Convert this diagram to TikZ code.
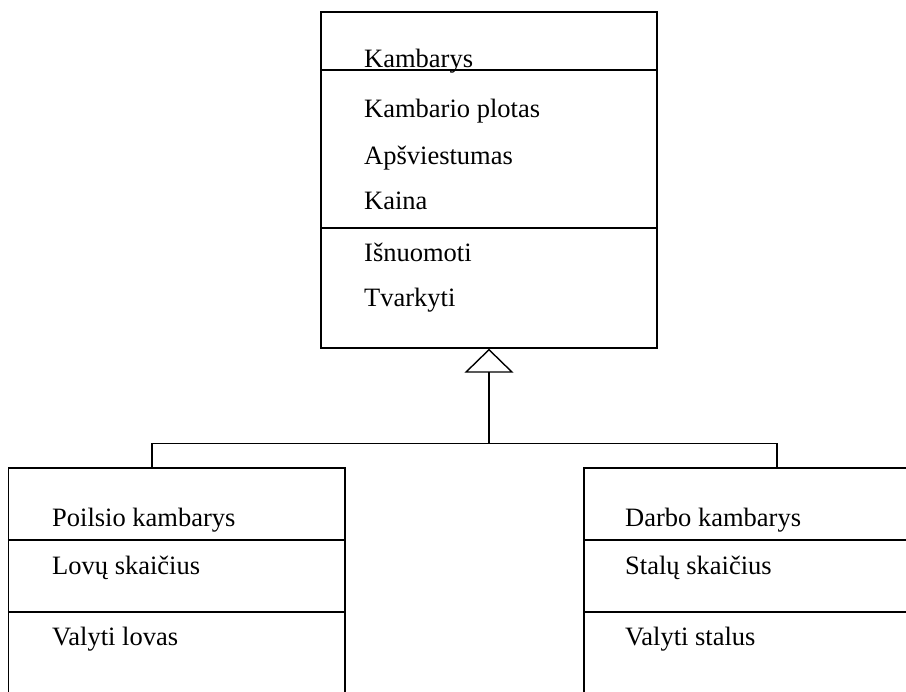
\documentclass[tikz,border=0pt]{standalone}
\usepackage{fontspec}
\setmainfont{Liberation Serif}
\usetikzlibrary{arrows.meta}
\begin{document}
\begin{tikzpicture}[x=1pt,y=-1pt,
  umlbox/.style={draw,line width=1.4pt,rectangle,inner sep=0pt},
  txt/.style={anchor=base west,inner sep=0pt,font=\fontsize{26.5}{30}\selectfont},
  wire/.style={line width=1.4pt},
  inherit/.style={line width=1.4pt,-{Triangle[open,length=24pt,width=49pt,line width=1.4pt]}}]
\useasboundingbox (0,0) rectangle (906,692);
\clip (0,0) rectangle (906,692);

% class boxes
\node[umlbox,minimum width=336pt,minimum height=336pt] (room) at (489,180) {};
\node[umlbox,minimum width=336.5pt,minimum height=252pt] (rest) at (176.75,594) {};
\node[umlbox,minimum width=346pt,minimum height=252pt] (work) at (757,594) {};

% compartment separators
\draw[wire] (room.west |- 0,70) -- (room.east |- 0,70);
\draw[wire] (room.west |- 0,228) -- (room.east |- 0,228);
\draw[wire] (rest.west |- 0,540) -- (rest.east |- 0,540);
\draw[wire] (rest.west |- 0,612) -- (rest.east |- 0,612);
\draw[wire] (work.west |- 0,540) -- (work.east |- 0,540);
\draw[wire] (work.west |- 0,612) -- (work.east |- 0,612);

% texts of the base class
\node[txt] (t1) at (364,68) {Kambarys};
\node[txt] (t2) at (364,118) {Kambario plotas};
\node[txt] (t3) at (364,165) {Apšviestumas};
\node[txt] (t4) at (364,210) {Kaina};
\node[txt] (t5) at (364,262) {Išnuomoti};
\node[txt] (t6) at (364,307) {Tvarkyti};

% texts of the subclasses
\node[txt] (l1) at (52,527) {Poilsio kambarys};
\node[txt] (l2) at (52,575) {Lovų skaičius};
\node[txt] (l3) at (52,645) {Valyti lovas};
\node[txt] (r1) at (625,527) {Darbo kambarys};
\node[txt] (r2) at (625,575) {Stalų skaičius};
\node[txt] (r3) at (625,645) {Valyti stalus};

% generalisation connectors
\coordinate (hub) at (room.south |- 0,443.5);
\coordinate (lt) at (152,443.5);
\coordinate (rt) at (777,443.5);
\draw[inherit] (hub) -- (room.south);
\draw[wire] (lt) -- (rt);
\draw[wire] (lt) -- (lt |- rest.north);
\draw[wire] (rt) -- (rt |- work.north);
\end{tikzpicture}
\end{document}
